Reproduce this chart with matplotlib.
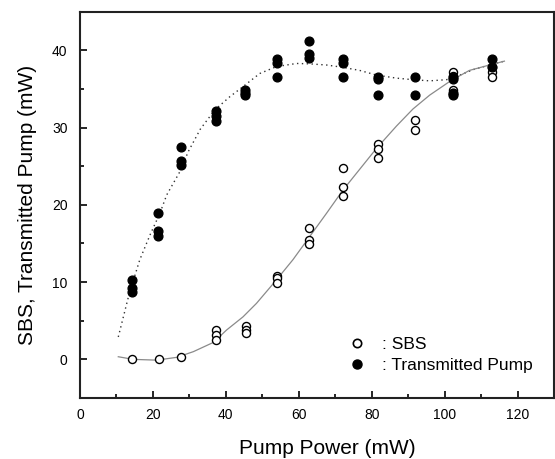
import matplotlib
matplotlib.use("Agg")
import matplotlib.pyplot as plt
from matplotlib.ticker import MultipleLocator
from matplotlib.lines import Line2D

# transmitted pump (filled circles)
pump_x = [14.3, 14.3, 14.3, 21.4, 21.4, 21.4, 27.7, 27.7, 27.7,
          37.2, 37.2, 37.2, 45.2, 45.2, 45.2, 54.1, 54.1, 54.1,
          62.9, 62.9, 62.9, 72.2, 72.2, 72.2, 81.8, 81.8, 81.8,
          91.8, 91.8, 102.3, 102.3, 102.3, 102.3, 113.1, 113.1]
pump_y = [10.3, 9.2, 8.7, 18.9, 16.6, 16.0, 27.5, 25.7, 25.2,
          32.1, 31.5, 30.9, 34.9, 34.5, 34.2, 38.9, 38.3, 36.6,
          41.2, 39.5, 39.0, 38.9, 38.3, 36.6, 36.6, 36.3, 34.2,
          36.6, 34.2, 36.6, 36.3, 34.5, 34.2, 38.9, 37.8]

# SBS (open circles)
sbs_x = [14.3, 21.6, 27.7, 37.2, 37.2, 37.2, 45.4, 45.4, 45.4,
         54.1, 54.1, 54.1, 62.8, 62.8, 62.8, 72.2, 72.2, 72.2,
         81.8, 81.8, 81.8, 91.8, 91.8, 102.3, 102.3, 102.3, 102.3,
         113.1, 113.1, 113.1]
sbs_y = [0.0, 0.1, 0.3, 3.8, 3.1, 2.5, 4.3, 3.8, 3.4,
         10.8, 10.5, 9.9, 17.0, 15.5, 14.9, 24.8, 22.3, 21.1,
         27.9, 27.2, 26.0, 31.0, 29.7, 37.2, 36.7, 34.9, 34.3,
         37.8, 37.2, 36.6]

# fit curves
pump_fit_x = [10.5, 13.5, 16.4, 19.2, 21.9, 23.8, 27.4, 29.7, 33.0, 37.0,
              41.1, 44.7, 49.3, 53.9, 59.4, 63.0, 67.6, 72.1, 76.7, 81.3,
              86.8, 91.3, 95.9, 100.5, 103.2, 107.8, 112.3, 116.4]
pump_fit_y = [2.9, 8.5, 12.9, 16.1, 18.9, 21.3, 24.3, 26.9, 29.8, 32.3,
              34.0, 35.3, 37.0, 37.9, 38.3, 38.25, 38.1, 37.8, 37.4, 36.8,
              36.4, 36.2, 36.05, 36.2, 36.6, 37.5, 38.1, 38.6]

sbs_fit_x = [10.5, 14.6, 21.0, 26.5, 31.1, 36.6, 40.2, 44.7, 48.4, 53.9,
             58.4, 63.0, 67.6, 72.1, 76.7, 81.3, 86.8, 91.3, 95.9, 101.8,
             106.8, 112.3, 116.4]
sbs_fit_y = [0.34, 0.0, -0.1, 0.26, 1.0, 2.2, 3.8, 5.5, 7.25, 10.3,
             12.9, 15.9, 18.9, 21.9, 24.6, 27.3, 30.2, 32.4, 34.2, 36.1,
             37.4, 38.1, 38.6]

plt.rcParams['font.family'] = ['Liberation Sans', 'DejaVu Sans']

fig = plt.figure(figsize=(5.55, 4.59), dpi=100)
ax = fig.add_axes([80 / 555, 1 - 398 / 459, 474 / 555, 386.3 / 459])

ax.plot(pump_fit_x, pump_fit_y, color='#333333', linestyle=(0, (1, 2.5)), linewidth=1.0)
ax.plot(sbs_fit_x, sbs_fit_y, color='#8a8a8a', linewidth=0.9)

ax.plot(sbs_x, sbs_y, 'o', markerfacecolor='white', markeredgecolor='black',
        markersize=5.8, markeredgewidth=1.0, linestyle='none')
ax.plot(pump_x, pump_y, 'o', color='black', markersize=6.3, linestyle='none')

ax.set_xlim(0, 130)
ax.set_ylim(-5, 45)
ax.xaxis.set_major_locator(MultipleLocator(20))
ax.xaxis.set_minor_locator(MultipleLocator(10))
ax.yaxis.set_major_locator(MultipleLocator(10))
ax.yaxis.set_minor_locator(MultipleLocator(5))
ax.tick_params(which='both', direction='in', labelsize=10, width=1.2)
ax.tick_params(which='major', length=5, pad=7)
ax.tick_params(which='minor', length=3)
ax.tick_params(axis='y', pad=9)
for s in ax.spines.values():
    s.set_linewidth(1.5)
    s.set_color('#222222')

ax.set_xlabel('Pump Power (mW)', fontsize=15, va='baseline')
ax.xaxis.set_label_coords(0.521, -0.145)
ax.set_ylabel('SBS, Transmitted Pump (mW)', fontsize=15, labelpad=11)

handles = [
    Line2D([], [], marker='o', linestyle='none', markerfacecolor='white',
           markeredgecolor='black', markersize=6, markeredgewidth=1.2),
    Line2D([], [], marker='o', linestyle='none', color='black', markersize=6.5),
]
ax.legend(handles, [': SBS', ': Transmitted Pump'], loc='lower left',
          bbox_to_anchor=(0.53, 0.025), frameon=False, fontsize=12.5,
          handletextpad=0.8, labelspacing=0.3, handlelength=1.2)

fig.savefig('out.png', dpi=100)
